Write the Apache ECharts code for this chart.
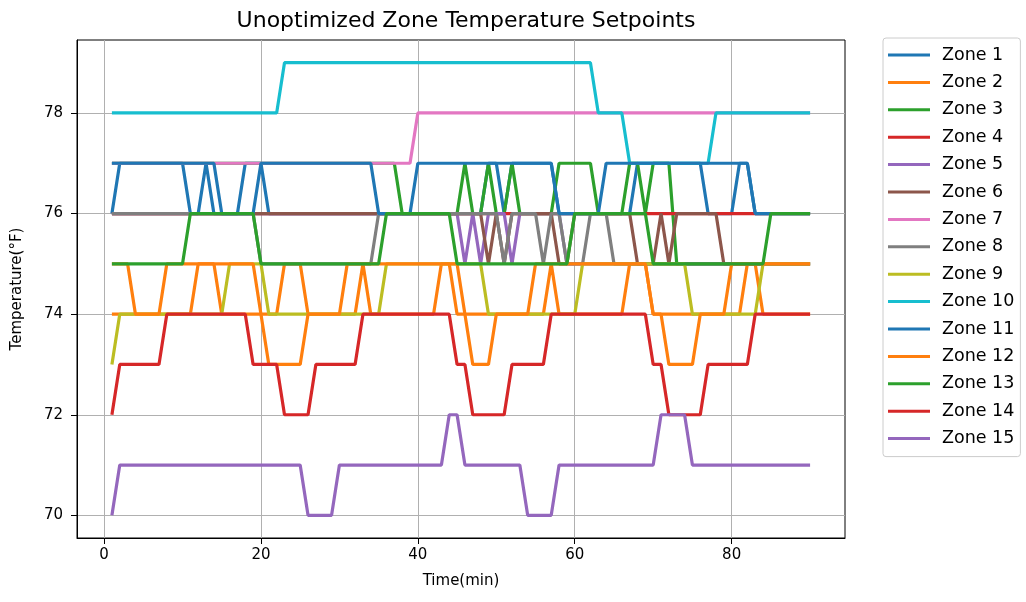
<!DOCTYPE html>
<html><head><meta charset="utf-8">
<script src="https://cdn.jsdelivr.net/npm/echarts@6/dist/echarts.min.js"></script>
<style>html,body{margin:0;padding:0;background:#fff}#c{width:1026px;height:602px}</style>
</head><body><div id="c"></div>
<script>
const time = [1,2,3,4,5,6,7,8,9,10,11,12,13,14,15,16,17,18,19,20,21,22,23,24,25,26,27,28,29,30,
31,32,33,34,35,36,37,38,39,40,41,42,43,44,45,46,47,48,49,50,51,52,53,54,55,56,57,58,59,60,
61,62,63,64,65,66,67,68,69,70,71,72,73,74,75,76,77,78,79,80,81,82,83,84,85,86,87,88,89,90];
const xTicks = [0,20,40,60,80];
const yTicks = [70,72,74,76,78];
const zoneNames = ['Zone 1','Zone 2','Zone 3','Zone 4','Zone 5','Zone 6','Zone 7','Zone 8','Zone 9','Zone 10','Zone 11','Zone 12','Zone 13','Zone 14','Zone 15'];

const zone1 = [76,77,77,77,77,77,77,77,77,77, 76,76,77,76,76,76,76,77,77,77, 76,76,76,76,76,76,76,76,76,76, 76,76,76,76,76,76,76,76,76,76,
 76,76,76,76,76,76,76,76,77,77, 76,77,77,77,77,77,77,76,76,76, 76,76,76,76,76,76,76,77,77,77, 77,77,77,77,77,77,76,76,76,76, 77,77,76,76,76,76,76,76,76,76];
const zone2 = [74,74,74,74,74,74,74,74,74,74, 74,75,75,75,74,74,74,74,74,74, 74,74,75,75,75,74,74,74,74,74, 74,74,75,74,74,74,74,74,74,74,
 74,74,75,75,74,74,74,74,74,74, 74,74,74,74,74,74,75,74,74,74, 74,74,74,74,74,74,75,75,75,74, 74,74,74,74,74,74,74,74,74,74, 74,75,75,74,74,74,74,74,74,74];
const zone3 = [77,77,77,77,77,77,77,77,77,77, 77,77,77,77,77,77,77,77,77,77, 77,77,77,77,77,77,77,77,77,77, 77,77,77,77,77,77,77,76,76,76,
 76,76,76,76,76,77,76,76,77,76, 76,77,76,76,76,76,76,77,77,77, 77,77,76,76,76,76,77,77,76,77, 77,77,75,75,75,75,75,75,75,75, 75,75,75,75,75,75,75,75,75,75];
const zone4 = [76,76,76,76,76,76,76,76,76,76, 76,76,76,76,76,76,76,76,76,76, 76,76,76,76,76,76,76,76,76,76, 76,76,76,76,76,76,76,76,76,76,
 76,76,76,76,76,76,76,76,76,76, 76,76,76,76,76,76,76,76,76,76, 76,76,76,76,76,76,76,76,76,76, 76,76,76,76,76,76,76,76,76,76, 76,76,76,76,76,76,76,76,76,76];
const zone5 = [76,76,76,76,76,76,76,76,76,76, 76,76,76,76,76,76,76,76,76,76, 76,76,76,76,76,76,76,76,76,76, 76,76,76,76,76,76,76,76,76,76,
 76,76,76,76,76,75,76,75,76,76, 76,75,76,76,76,76,76,76,75,75, 75,75,75,75,75,75,75,75,75,75, 75,75,75,75,75,75,75,75,75,75, 75,75,75,75,75,75,75,75,75,75];
const zone6 = [76,76,76,76,76,76,76,76,76,76, 76,76,76,76,76,76,76,76,76,76, 76,76,76,76,76,76,76,76,76,76, 76,76,76,76,76,76,76,76,76,76,
 76,76,76,76,76,76,76,76,75,76, 75,76,76,76,76,76,76,75,75,76, 76,76,76,76,76,76,76,75,75,75, 76,75,76,76,76,76,76,76,75,75, 75,75,75,75,75,75,75,75,75,75];
const zone7 = [77,77,77,77,77,77,77,77,77,77, 77,77,77,77,77,77,77,77,77,77, 77,77,77,77,77,77,77,77,77,77, 77,77,77,77,77,77,77,77,77,78,
 78,78,78,78,78,78,78,78,78,78, 78,78,78,78,78,78,78,78,78,78, 78,78,78,78,78,78,78,78,78,78, 78,78,78,78,78,78,78,78,78,78, 78,78,78,78,78,78,78,78,78,78];
const zone8 = [76,76,76,76,76,76,76,76,76,76, 76,76,76,76,76,76,76,76,76,75, 75,75,75,75,75,75,75,75,75,75, 75,75,75,75,76,76,76,76,76,76,
 76,76,76,76,76,76,76,76,76,76, 75,76,76,76,76,75,76,76,75,75, 75,76,76,76,75,75,75,75,75,75, 75,75,75,75,75,75,75,75,75,75, 75,75,75,75,75,75,75,75,75,75];
const zone9 = [73,74,74,74,74,74,74,74,74,74, 74,74,74,74,74,75,75,75,75,75, 74,74,74,74,74,74,74,74,74,74, 74,74,74,74,74,75,75,75,75,75,
 75,75,75,75,75,75,75,75,74,74, 74,74,74,74,74,74,74,74,74,74, 75,75,75,75,75,75,75,75,75,75, 75,75,75,75,74,74,74,74,74,74, 74,74,74,75,75,75,75,75,75,75];
const zone10 = [78,78,78,78,78,78,78,78,78,78, 78,78,78,78,78,78,78,78,78,78, 78,78,79,79,79,79,79,79,79,79, 79,79,79,79,79,79,79,79,79,79,
 79,79,79,79,79,79,79,79,79,79, 79,79,79,79,79,79,79,79,79,79, 79,79,78,78,78,78,77,77,77,77, 77,77,77,77,77,77,77,78,78,78, 78,78,78,78,78,78,78,78,78,78];
const zone11 = [77,77,77,77,77,77,77,77,77,77, 77,77,77,77,76,76,76,76,76,77, 77,77,77,77,77,77,77,77,77,77, 77,77,77,77,76,76,76,76,76,77,
 77,77,77,77,77,77,77,77,77,77, 77,77,77,77,77,77,77,76,76,76, 76,76,76,77,77,77,77,77,77,77, 77,77,77,77,77,77,77,77,77,77, 77,77,76,76,76,76,76,76,76,76];
const zone12 = [75,75,75,74,74,74,74,75,75,75, 75,75,75,75,75,75,75,75,75,74, 73,73,73,73,73,74,74,74,74,74, 75,75,75,75,75,75,75,75,75,75,
 75,75,75,75,75,74,73,73,73,74, 74,74,74,74,75,75,75,75,75,75, 75,75,75,75,75,75,75,75,75,74, 74,73,73,73,73,74,74,74,74,75, 75,75,75,75,75,75,75,75,75,75];
const zone13 = [75,75,75,75,75,75,75,75,75,75, 76,76,76,76,76,76,76,76,76,75, 75,75,75,75,75,75,75,75,75,75, 75,75,75,75,75,76,76,76,76,76,
 76,76,76,76,75,75,75,75,75,75, 75,75,75,75,75,75,75,75,75,76, 76,76,76,76,76,76,76,76,76,75, 75,75,75,75,75,75,75,75,75,75, 75,75,75,75,76,76,76,76,76,76];
const zone14 = [72,73,73,73,73,73,73,74,74,74, 74,74,74,74,74,74,74,74,73,73, 73,73,72,72,72,72,73,73,73,73, 73,73,74,74,74,74,74,74,74,74,
 74,74,74,74,73,73,72,72,72,72, 72,73,73,73,73,73,74,74,74,74, 74,74,74,74,74,74,74,74,74,73, 73,72,72,72,72,72,73,73,73,73, 73,73,74,74,74,74,74,74,74,74];
const zone15 = [70,71,71,71,71,71,71,71,71,71, 71,71,71,71,71,71,71,71,71,71, 71,71,71,71,71,70,70,70,70,71, 71,71,71,71,71,71,71,71,71,71,
 71,71,71,72,72,71,71,71,71,71, 71,71,71,70,70,70,70,71,71,71, 71,71,71,71,71,71,71,71,71,71, 72,72,72,72,71,71,71,71,71,71, 71,71,71,71,71,71,71,71,71,71];

const zoneValues = [zone1,zone2,zone3,zone4,zone5,zone6,zone7,zone8,zone9,zone10,zone11,zone12,zone13,zone14,zone15];
const palette = ['#1f77b4','#ff7f0e','#2ca02c','#d62728','#9467bd','#8c564b','#e377c2','#7f7f7f','#bcbd22','#17becf'];
const FONT = 'DejaVu Sans';

const chart = echarts.init(document.getElementById('c'), null, {renderer: 'canvas'});
const series = zoneNames.map((name, i) => ({
  name: name,
  type: 'line',
  data: time.map((t, k) => [t, zoneValues[i][k]]),
  symbol: 'none',
  showSymbol: false,
  lineStyle: {width: 3.2, color: palette[i % 10]},
  itemStyle: {color: palette[i % 10]},
  animation: false
}));

chart.setOption({
  animation: false,
  backgroundColor: '#fff',
  title: {
    text: 'Unoptimized Zone Temperature Setpoints',
    left: 461, top: 5, textAlign: 'center',
    textStyle: {fontFamily: FONT, fontSize: 22, fontWeight: 'normal', color: '#000'}
  },
  grid: {left: 77, right: 181, top: 40, bottom: 64, show: true, borderColor: '#000', borderWidth: 1, backgroundColor: 'transparent'},
  legend: {
    orient: 'vertical', left: 883, top: 38,
    data: zoneNames,
    icon: 'rect', itemWidth: 42, itemHeight: 3, itemGap: 7.4,
    padding: [7, 6, 8, 5],
    borderColor: '#cccccc', borderWidth: 1, borderRadius: 3,
    textStyle: {fontFamily: FONT, fontSize: 17.5, color: '#000', lineHeight: 20, padding: [0,0,0,7]}
  },
  xAxis: {
    type: 'value', min: -3.45, max: 94.45,
    name: 'Time(min)', nameLocation: 'middle', nameGap: 36,
    nameTextStyle: {fontFamily: FONT, fontSize: 15, color: '#000'},
    axisLine: {show: true, onZero: false, lineStyle: {color: '#000', width: 1}},
    axisTick: {show: true, length: 6, customValues: xTicks, lineStyle: {color: '#000'}},
    axisLabel: {customValues: xTicks, fontFamily: FONT, fontSize: 15, color: '#000', margin: 10},
    splitLine: {show: true, lineStyle: {color: '#b0b0b0', width: 1}}
  },
  yAxis: {
    type: 'value', min: 69.55, max: 79.45,
    name: 'Temperature(°F)', nameLocation: 'middle', nameGap: 52,
    nameTextStyle: {fontFamily: FONT, fontSize: 15, color: '#000'},
    axisLine: {show: true, onZero: false, lineStyle: {color: '#000', width: 1}},
    axisTick: {show: true, length: 6, customValues: yTicks, lineStyle: {color: '#000'}},
    axisLabel: {customValues: yTicks, fontFamily: FONT, fontSize: 15, color: '#000', margin: 14},
    splitLine: {show: true, lineStyle: {color: '#b0b0b0', width: 1}}
  },
  series: series
});
</script>
</body></html>
